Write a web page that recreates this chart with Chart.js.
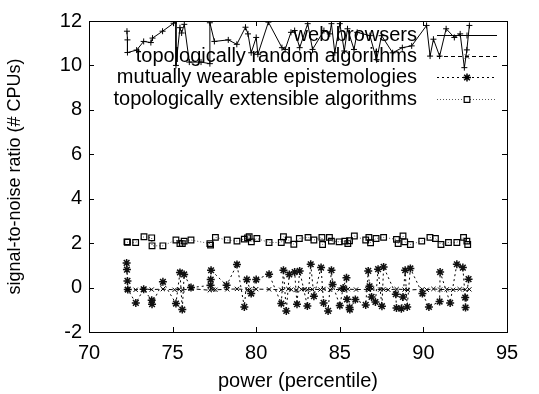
<!DOCTYPE html>
<html>
<head>
<meta charset="utf-8">
<script src="https://cdn.jsdelivr.net/npm/chart.js@4/dist/chart.umd.min.js"></script>
<style>
html, body { margin: 0; padding: 0; background: #fff; }
</style>
</head>
<body>
<canvas id="c" width="539" height="394"></canvas>
<script>
const FONT = "'Liberation Sans', Arial, sans-serif"
const FSIZE = 20

const xTicks = [70, 75, 80, 85, 90, 95]
const yTicks = [-2, 0, 2, 4, 6, 8, 10, 12]
const seriesNames = ['web browsers', 'topologically random algorithms', 'mutually wearable epistemologies', 'topologically extensible algorithms']

const browsersX = [72.27, 72.3, 72.3, 72.85, 73.27, 73.7, 73.8, 74.4, 75.06, 75.2, 75.2, 75.44, 75.54, 75.7, 76.0, 76.7, 77.23, 77.23, 77.5, 78.33, 78.84, 79.36, 79.51, 79.7, 80.0, 80.1, 80.73, 81.54, 81.73, 82.08, 82.3, 82.6, 83.08, 83.37, 84.05, 84.4, 84.5, 84.7, 85.0, 85.27, 85.46, 85.85, 86.04, 86.8, 87.2, 87.5, 88.16, 88.74, 89.3, 90.19, 90.4, 90.6, 90.97, 91.36, 91.85, 92.2, 92.45, 92.6, 92.75]
const browsersY = [11.54, 11.15, 10.58, 10.69, 11.08, 11.03, 11.23, 11.54, 11.9, 12.0, 10.0, 11.7, 11.46, 11.85, 10.15, 10.15, 10.08, 11.92, 11.08, 11.15, 10.95, 11.72, 11.42, 10.57, 11.26, 10.5, 11.95, 10.8, 10.72, 11.49, 11.57, 10.8, 11.88, 10.72, 11.57, 11.42, 11.88, 10.57, 11.88, 10.65, 11.65, 10.72, 11.49, 11.34, 10.26, 11.34, 10.57, 10.8, 10.88, 11.8, 10.42, 11.18, 10.42, 11.65, 11.26, 11.42, 9.9, 10.7, 11.8]

const randomX = [72.27, 72.79, 73.27, 73.75, 74.42, 75.12, 75.4, 75.6, 76.1, 77.23, 77.42, 77.56, 78.27, 78.85, 79.48, 79.6, 80.0, 80.77, 81.5, 81.92, 82.1, 82.4, 82.7, 82.9, 83.06, 83.36, 83.84, 84.03, 84.42, 85.0, 85.2, 85.48, 85.97, 86.65, 86.74, 86.94, 87.42, 87.6, 87.9, 88.4, 88.87, 89.07, 89.94, 90.2, 90.6, 91.0, 91.4, 91.78, 92.17, 92.5, 92.75]
const randomY = [-0.08, -0.1, -0.06, -0.09, -0.07, -0.1, -0.08, -0.11, -0.05, -0.12, -0.09, -0.1, -0.08, -0.06, -0.1, -0.09, -0.07, -0.08, -0.1, -0.06, -0.09, -0.11, -0.08, -0.07, -0.1, -0.08, -0.09, -0.06, -0.1, -0.08, -0.11, -0.07, -0.09, -0.08, -0.1, -0.06, -0.09, -0.08, -0.1, -0.07, -0.09, -0.11, -0.08, -0.1, -0.06, -0.09, -0.08, -0.1, -0.07, -0.09, -0.08]

const mutualX = [72.25, 72.27, 72.3, 72.32, 72.8, 73.27, 73.75, 73.77, 74.42, 75.2, 75.44, 75.58, 75.69, 76.1, 77.27, 77.28, 77.3, 78.23, 78.85, 79.29, 79.44, 79.7, 80.0, 80.77, 81.5, 81.63, 81.8, 81.98, 82.3, 82.44, 82.6, 83.06, 83.26, 83.45, 83.88, 84.03, 84.3, 84.5, 84.57, 85.0, 85.2, 85.4, 85.43, 85.58, 85.6, 85.93, 86.55, 86.7, 86.78, 86.9, 87.13, 87.29, 87.52, 87.62, 88.35, 88.39, 88.68, 88.78, 88.91, 89.03, 89.22, 89.94, 90.33, 90.97, 91.0, 91.6, 92.0, 92.36, 92.5, 92.52, 92.7]
const mutualY = [1.11, 0.81, 0.3, -0.09, -0.69, -0.08, -0.57, -0.75, 0.26, -0.72, 0.68, -0.99, 0.59, 0.0, 0.1, 0.36, 0.78, 0.1, 1.04, -0.87, 0.36, -0.27, 0.36, 0.6, -0.72, 0.78, -1.05, 0.59, 0.7, -0.75, 0.75, -0.83, 1.05, -0.39, 0.9, -0.69, -1.05, 0.78, 0.14, -0.81, -0.02, 0.44, -0.53, -0.9, -0.99, -0.54, -0.78, 0.75, 0.06, -0.42, -0.65, 0.83, -0.84, 0.93, -0.3, -0.92, -0.95, -0.42, 0.78, -0.87, 0.86, -0.27, -0.87, -0.63, 0.7, -0.69, 1.05, 0.9, -0.45, -0.9, 0.38]

const extX = [72.27, 72.3, 72.79, 73.29, 73.75, 73.77, 74.42, 75.2, 75.44, 75.58, 75.69, 76.1, 77.23, 77.27, 77.56, 78.27, 78.85, 79.29, 79.48, 79.58, 79.71, 80.04, 80.77, 81.5, 81.63, 81.92, 82.25, 82.58, 83.1, 83.45, 83.93, 83.97, 84.38, 84.5, 84.96, 85.3, 85.48, 85.58, 85.87, 86.55, 86.74, 86.84, 87.17, 87.62, 88.39, 88.49, 88.78, 88.88, 89.22, 89.9, 90.39, 90.72, 91.05, 91.5, 92.0, 92.4, 92.6, 92.65]
const extY = [2.06, 2.04, 2.03, 2.29, 2.24, 1.88, 1.88, 2.14, 1.98, 1.98, 2.09, 2.14, 1.98, 1.91, 2.26, 2.14, 2.09, 2.18, 2.24, 2.29, 2.06, 2.21, 2.03, 2.03, 2.29, 2.14, 1.95, 2.21, 2.26, 2.14, 2.26, 1.94, 2.26, 2.09, 2.06, 2.09, 1.98, 2.11, 2.32, 2.14, 2.26, 2.02, 2.21, 2.26, 2.17, 1.98, 2.32, 2.06, 1.94, 2.09, 2.26, 2.21, 1.94, 2.03, 2.03, 2.26, 2.09, 1.94]

const pts = (xs, ys) => xs.map((x, i) => ({ x, y: ys[i] }))

// gnuplot-like look: frame with inward ticks, key drawn right-aligned inside the plot
const frame = {
	id: 'frame',
	afterDatasetsDraw(chart) {
		const { ctx, chartArea: a, scales } = chart
		ctx.save()
		ctx.strokeStyle = '#000'
		ctx.lineWidth = 1
		ctx.strokeRect(a.left + 0.5, a.top + 0.5, a.right - a.left, a.bottom - a.top)
		ctx.beginPath()
		const t = 5
		xTicks.forEach(v => {
			const px = Math.round(scales.x.getPixelForValue(v)) + 0.5
			ctx.moveTo(px, a.bottom); ctx.lineTo(px, a.bottom - t)
			ctx.moveTo(px, a.top); ctx.lineTo(px, a.top + t)
		})
		yTicks.forEach(v => {
			const py = Math.round(scales.y.getPixelForValue(v)) + 0.5
			ctx.moveTo(a.left, py); ctx.lineTo(a.left + t, py)
			ctx.moveTo(a.right, py); ctx.lineTo(a.right - t, py)
		})
		ctx.stroke()

		// key
		ctx.font = FSIZE + 'px ' + FONT
		ctx.textAlign = 'right'
		ctx.textBaseline = 'middle'
		const rows = [35, 56, 77, 99]
		chart.data.datasets.forEach((ds, i) => {
			const y = rows[i]
			ctx.fillStyle = '#000'
			ctx.fillText(seriesNames[i], 417, y)
			ctx.save()
			ctx.strokeStyle = ds.borderColor
			ctx.lineWidth = ds.borderWidth
			ctx.setLineDash(ds.borderDash || [])
			ctx.beginPath()
			ctx.moveTo(437, y + 0.5); ctx.lineTo(497, y + 0.5)
			ctx.stroke()
			ctx.restore()
			ctx.save()
			ctx.strokeStyle = '#000'
			ctx.fillStyle = '#fff'
			ctx.lineWidth = ds.pointBorderWidth || 1
			Chart.helpers.drawPoint(ctx, {
				pointStyle: ds.pointStyle, radius: ds.pointRadius, borderWidth: ds.pointBorderWidth || 1,
			}, 467, y + 0.5)
			ctx.restore()
		})
		ctx.restore()
	},
}

const tickFont = { family: FONT, size: FSIZE }

new Chart(document.getElementById('c'), {
	type: 'line',
	data: {
		datasets: [
			{ data: pts(browsersX, browsersY), borderColor: '#000', borderWidth: 1, pointStyle: 'cross', pointRadius: 3, pointBorderColor: '#000', pointBorderWidth: 1 },
			{ data: pts(randomX, randomY), borderColor: '#000', borderWidth: 1, borderDash: [4, 3], pointStyle: 'crossRot', pointRadius: 3, pointBorderColor: '#000', pointBorderWidth: 1 },
			{ data: pts(mutualX, mutualY), borderColor: '#000', borderWidth: 1, borderDash: [2, 3], pointStyle: 'star', pointRadius: 4, pointBorderColor: '#111', pointBorderWidth: 1.5 },
			{ data: pts(extX, extY), borderColor: '#555', borderWidth: 1, borderDash: [1, 2], pointStyle: 'rect', pointRadius: 4, pointBorderColor: '#000', pointBorderWidth: 1.2, pointBackgroundColor: 'rgba(0,0,0,0)' },
		],
	},
	options: {
		responsive: false,
		devicePixelRatio: 1,
		animation: false,
		layout: { padding: { top: 21, right: 32, left: 0, bottom: 0 } },
		plugins: { legend: { display: false }, tooltip: { enabled: false } },
		elements: { line: { tension: 0, fill: false } },
		scales: {
			x: {
				type: 'linear', min: 70, max: 95,
				afterBuildTicks: s => { s.ticks = xTicks.map(v => ({ value: v })) },
				grid: { display: false, drawTicks: false },
				border: { display: false },
				ticks: { font: tickFont, color: '#000', padding: 9, maxRotation: 0 },
				title: { display: true, text: 'power (percentile)', font: tickFont, color: '#000', padding: { top: 6, bottom: 1 } },
				afterFit: s => { s.height = 62 },
			},
			y: {
				type: 'linear', min: -2, max: 12,
				afterBuildTicks: s => { s.ticks = yTicks.map(v => ({ value: v })) },
				grid: { display: false, drawTicks: false },
				border: { display: false },
				ticks: { font: tickFont, color: '#000', padding: 7 },
				title: { display: true, text: 'signal-to-noise ratio (# CPUs)', font: { family: FONT, size: 18 }, color: '#000', padding: { top: 4, bottom: 0 } },
				afterFit: s => { s.width = 89 },
			},
		},
	},
	plugins: [frame],
})
</script>
</body>
</html>
